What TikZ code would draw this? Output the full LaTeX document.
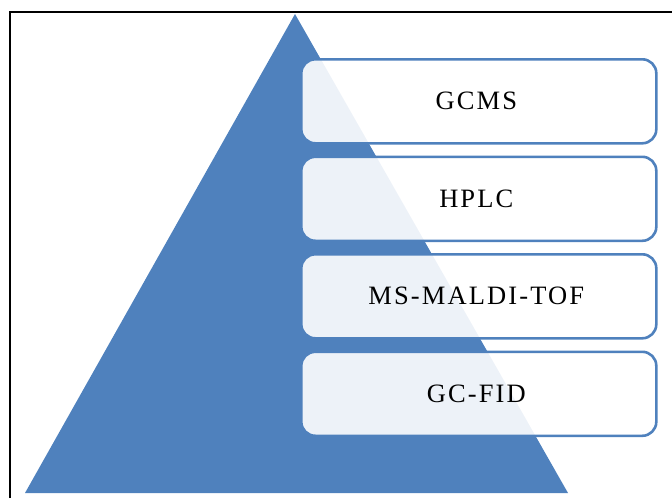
\documentclass[tikz,border=0pt]{standalone}
\usepackage{fontspec}
\setmainfont{Liberation Serif}
\newfontfamily\tierfont[LetterSpace=8]{Liberation Serif}
\newcommand\tiertext[1]{#1\kern5pt}
\begin{document}
\begin{tikzpicture}[x=1pt,y=-1pt,
  tierbox/.style={draw=pyrblue,line width=2.6pt,rounded corners=14pt,
    fill=white,fill opacity=0.9,text opacity=1,minimum width=355pt,
    minimum height=84pt,anchor=north west,inner sep=0pt,
    font=\tierfont\fontsize{26.5}{30}\selectfont},
  frameline/.style={draw=black,line width=2.6pt}]
\definecolor{pyrblue}{HTML}{4F81BD}
\useasboundingbox (0,0) rectangle (672,498);
% outer frame (left and top edges)
\coordinate (ftl) at (10,12);
\coordinate (fbl) at (10,498);
\coordinate (ftr) at (672,12);
\draw[frameline] (fbl) -- (ftl) -- (ftr);
% pyramid
\coordinate (apex) at (295,14);
\coordinate (bl) at (25,493);
\coordinate (br) at (568,493);
\fill[pyrblue] (apex) -- (br) -- (bl) -- cycle;
% tier boxes
\node[tierbox] (gcms) at (300,58) {\tiertext{GCMS}};
\node[tierbox] (hplc) at (300,155.5) {\tiertext{HPLC}};
\node[tierbox] (maldi) at (300,253) {\tiertext{MS-MALDI-TOF}};
\node[tierbox] (gcfid) at (300,350.5) {\tiertext{GC-FID}};
\end{tikzpicture}
\end{document}
